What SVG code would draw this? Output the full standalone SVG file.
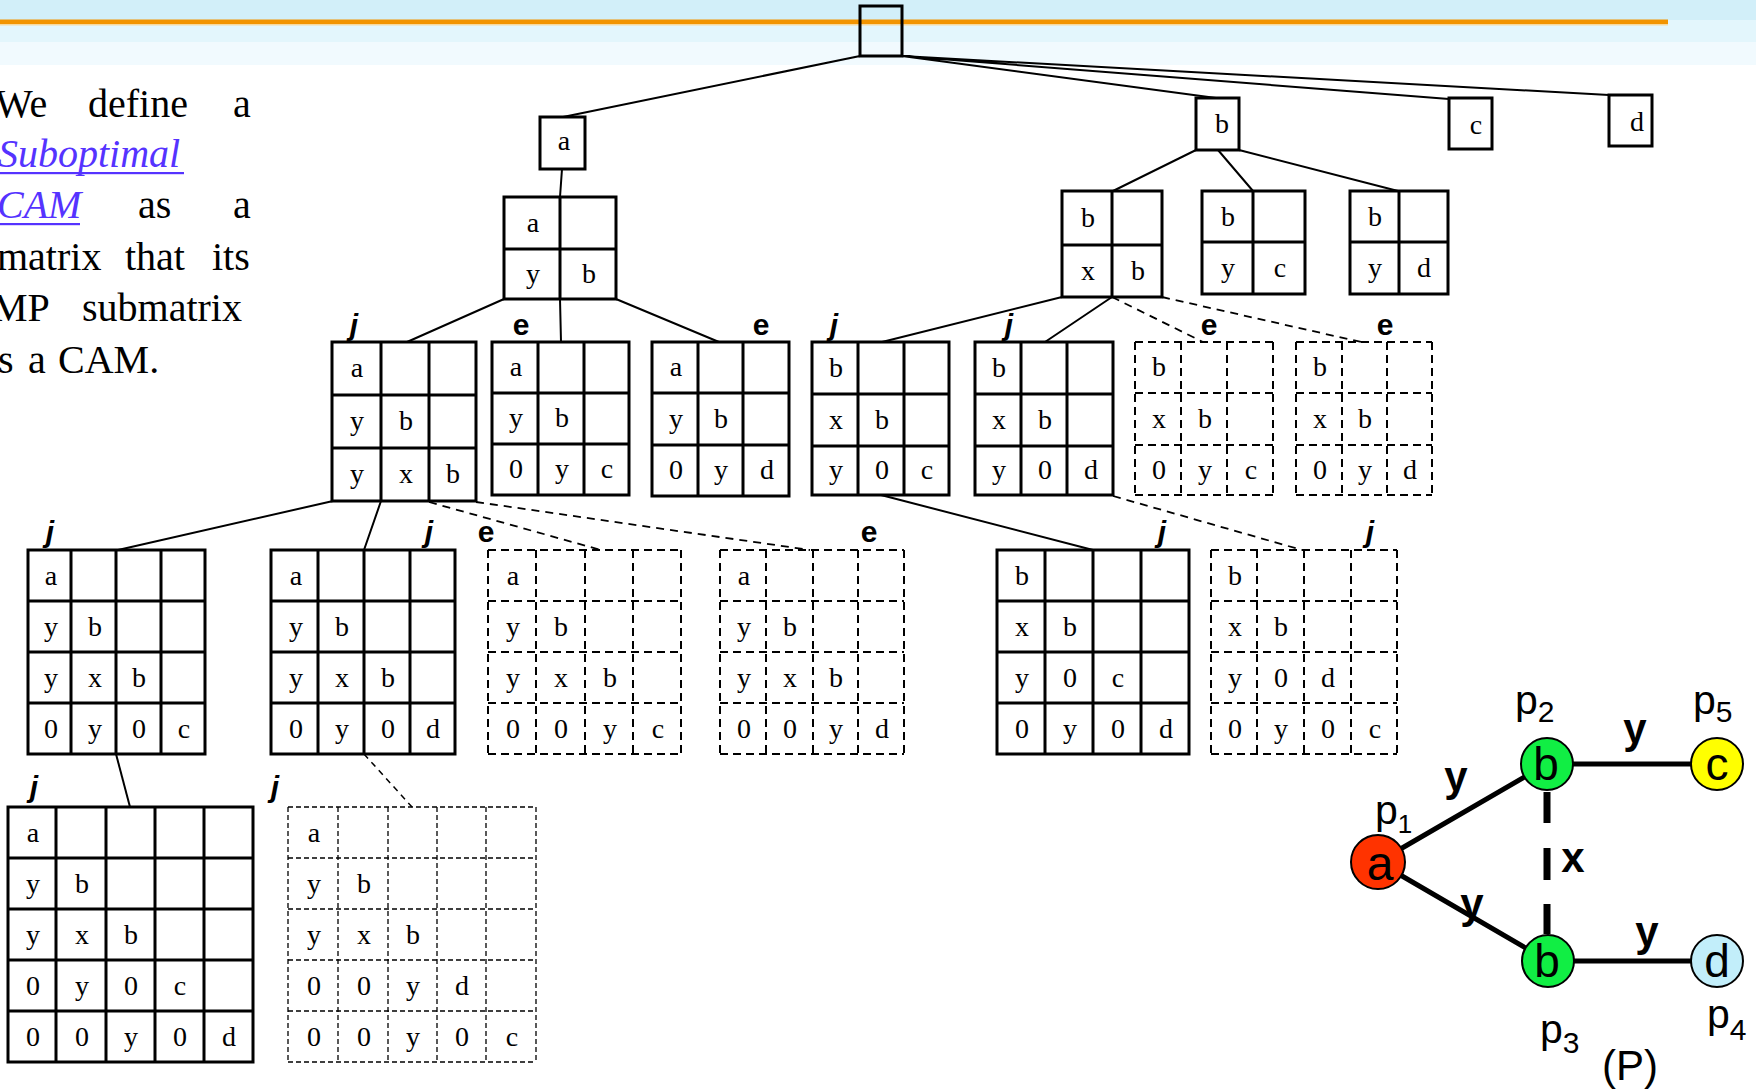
<svg xmlns="http://www.w3.org/2000/svg" width="1756" height="1090" viewBox="0 0 1756 1090">
<style>
.s{fill:none;stroke:#000;stroke-width:3}
.d{fill:none;stroke:#000;stroke-width:2;stroke-dasharray:8 5}
.dt{fill:none;stroke:#000;stroke-width:1.3;stroke-dasharray:5 3}
.t{font-family:"Liberation Serif","Times New Roman",serif;font-size:28px;text-anchor:middle;fill:#000}
.lb{font-family:"Liberation Sans",Arial,sans-serif;font-size:30px;font-weight:bold;text-anchor:middle;fill:#000}
.lj{font-style:italic}
.e{stroke:#000;stroke-width:2;fill:none}
.ed{stroke:#000;stroke-width:1.8;fill:none;stroke-dasharray:8 6}
.edt{stroke:#000;stroke-width:1.5;fill:none;stroke-dasharray:6 5}
.body{font-family:"Liberation Serif","Times New Roman",serif;font-size:40px;fill:#000}
.link{font-style:italic;fill:#5533FF}
.gs{font-family:"Liberation Sans",Arial,sans-serif;fill:#000}
.ge{stroke:#000;stroke-width:5;fill:none}
.nc{stroke:#000;stroke-width:2}
</style>
<rect width="1756" height="1090" fill="#fff"/>
<g id="background">
<rect x="0" y="0" width="1756" height="20" fill="#D2EFF9"/>
<rect x="0" y="20" width="1756" height="22" fill="#E3F6FC"/>
<rect x="0" y="42" width="1756" height="23" fill="#F1FAFE"/>
<rect x="0" y="19.5" width="1668" height="4.5" fill="#F29400"/>
<rect x="0" y="24" width="1668" height="1.5" fill="#F6D9A0"/>
</g>
<g id="text-definition" class="body">
<text x="-5" y="117">We</text><text x="88" y="117">define</text><text x="233" y="117">a</text>
<text x="-2" y="167" class="link">Suboptimal</text>
<rect x="0" y="172" width="184" height="2.2" fill="#5533FF"/>
<text x="-3" y="218" class="link">CAM</text><text x="138" y="218">as</text><text x="233" y="218">a</text>
<rect x="0" y="223" width="80" height="2.2" fill="#5533FF"/>
<text x="-3" y="270">matrix</text><text x="125" y="270">that</text><text x="212" y="270">its</text>
<text x="-8" y="321">MP</text><text x="82" y="321">submatrix</text>
<text x="-2" y="373">s</text><text x="28" y="373">a</text><text x="58" y="373">CAM.</text>
</g>
<g id="connectors">
<path class="e" d="M860 56L563 117M902 56L1216 98M902 56L1449 99M902 56L1609 95"/>
<path class="e" d="M562 169L560 197M504 299L407 342M560 299L561 342M616 299L719 342"/>
<path class="e" d="M1196 150L1113 191M1218 150L1253 191M1239 150L1398 191"/>
<path class="e" d="M1062 297L882 342M1112 297L1045 342"/>
<path class="ed" d="M1112 297L1203 342M1162 297L1361 342"/>
<path class="e" d="M333 501L118 550M381 501L364 550M881 495L1093 550"/>
<path class="ed" d="M429 502L601 550M476 502L810 550M1113 496L1302 550"/>
<path class="e" d="M116 754L130 807"/>
<path class="edt" d="M364 754L412 807"/>
</g>
<g id="root"><rect class="s" x="860" y="6" width="42" height="50"/></g>
<g id="n-a"><rect class="s" x="540" y="117" width="45" height="52" fill="#fff"/><text class="t" x="564" y="150">a</text></g>
<g id="n-b"><rect class="s" x="1196" y="98" width="43" height="52" fill="#fff"/><text class="t" x="1222" y="133">b</text></g>
<g id="n-c"><rect class="s" x="1449" y="98" width="43" height="51" fill="#fff"/><text class="t" x="1476" y="134">c</text></g>
<g id="n-d"><rect class="s" x="1609" y="95" width="43" height="51" fill="#fff"/><text class="t" x="1637" y="131">d</text></g>

<g id="m-ayb"><path class="s" d="M504 197H616V299H504ZM560 197V299M504 249H616"/>
<text class="t" x="533" y="232">a</text><text class="t" x="533" y="283">y</text><text class="t" x="589" y="283">b</text></g>
<g id="m-bxb"><path class="s" d="M1062 191H1162V297H1062ZM1112 191V297M1062 245H1162"/>
<text class="t" x="1088" y="227">b</text><text class="t" x="1088" y="280">x</text><text class="t" x="1138" y="280">b</text></g>
<g id="m-byc"><path class="s" d="M1202 191H1305V294H1202ZM1253 191V294M1202 242H1305"/>
<text class="t" x="1228" y="226">b</text><text class="t" x="1228" y="277">y</text><text class="t" x="1280" y="277">c</text></g>
<g id="m-byd"><path class="s" d="M1350 191H1448V294H1350ZM1399 191V294M1350 242H1448"/>
<text class="t" x="1375" y="226">b</text><text class="t" x="1375" y="277">y</text><text class="t" x="1424" y="277">d</text></g>

<g id="m3-ayb-yxb"><path class="s" d="M332 342H476V501H332ZM381 342V501M429 342V501M332 395H476M332 448H476"/>
<text class="t" x="357" y="377">a</text><text class="t" x="357" y="430">y</text><text class="t" x="406" y="430">b</text>
<text class="t" x="357" y="483">y</text><text class="t" x="406" y="483">x</text><text class="t" x="453" y="483">b</text>
<text class="lb lj" x="354" y="335">j</text></g>
<g id="m3-ayb-0yc"><path class="s" d="M492 342H629V495H492ZM538 342V495M584 342V495M492 393H629M492 444H629"/>
<text class="t" x="516" y="376">a</text><text class="t" x="516" y="427">y</text><text class="t" x="562" y="427">b</text>
<text class="t" x="516" y="478">0</text><text class="t" x="562" y="478">y</text><text class="t" x="607" y="478">c</text>
<text class="lb" x="521" y="335">e</text></g>
<g id="m3-ayb-0yd"><path class="s" d="M652 342H789V496H652ZM698 342V496M743 342V496M652 393H789M652 445H789"/>
<text class="t" x="676" y="376">a</text><text class="t" x="676" y="428">y</text><text class="t" x="721" y="428">b</text>
<text class="t" x="676" y="479">0</text><text class="t" x="721" y="479">y</text><text class="t" x="767" y="479">d</text>
<text class="lb" x="761" y="335">e</text></g>
<g id="m3-bxb-y0c"><path class="s" d="M812 342H949V495H812ZM858 342V495M904 342V495M812 394H949M812 446H949"/>
<text class="t" x="836" y="377">b</text><text class="t" x="836" y="429">x</text><text class="t" x="882" y="429">b</text>
<text class="t" x="836" y="479">y</text><text class="t" x="882" y="479">0</text><text class="t" x="927" y="479">c</text>
<text class="lb lj" x="834" y="335">j</text></g>
<g id="m3-bxb-y0d"><path class="s" d="M975 342H1113V495H975ZM1021 342V495M1067 342V495M975 394H1113M975 446H1113"/>
<text class="t" x="999" y="377">b</text><text class="t" x="999" y="429">x</text><text class="t" x="1045" y="429">b</text>
<text class="t" x="999" y="479">y</text><text class="t" x="1045" y="479">0</text><text class="t" x="1091" y="479">d</text>
<text class="lb lj" x="1009" y="335">j</text></g>
<g id="m3-bxb-0yc"><path class="d" d="M1135 342H1273M1135 393H1273M1135 445H1273M1135 495H1273M1135 342V495M1181 342V495M1227 342V495M1273 342V495"/>
<text class="t" x="1159" y="376">b</text><text class="t" x="1159" y="428">x</text><text class="t" x="1205" y="428">b</text>
<text class="t" x="1159" y="479">0</text><text class="t" x="1205" y="479">y</text><text class="t" x="1251" y="479">c</text>
<text class="lb" x="1209" y="335">e</text></g>
<g id="m3-bxb-0yd"><path class="d" d="M1296 342H1432M1296 393H1432M1296 445H1432M1296 495H1432M1296 342V495M1342 342V495M1387 342V495M1432 342V495"/>
<text class="t" x="1320" y="376">b</text><text class="t" x="1320" y="428">x</text><text class="t" x="1365" y="428">b</text>
<text class="t" x="1320" y="479">0</text><text class="t" x="1365" y="479">y</text><text class="t" x="1410" y="479">d</text>
<text class="lb" x="1385" y="335">e</text></g>

<g id="m4-a-c"><path class="s" d="M28 550H205V754H28ZM71 550V754M116 550V754M161 550V754M28 601H205M28 652H205M28 703H205"/>
<text class="t" x="51" y="585">a</text>
<text class="t" x="51" y="636">y</text><text class="t" x="95" y="636">b</text>
<text class="t" x="51" y="687">y</text><text class="t" x="95" y="687">x</text><text class="t" x="139" y="687">b</text>
<text class="t" x="51" y="738">0</text><text class="t" x="95" y="738">y</text><text class="t" x="139" y="738">0</text><text class="t" x="184" y="738">c</text>
<text class="lb lj" x="50" y="542">j</text></g>
<g id="m4-a-d"><path class="s" d="M271 550H455V754H271ZM318 550V754M364 550V754M410 550V754M271 601H455M271 652H455M271 703H455"/>
<text class="t" x="296" y="585">a</text>
<text class="t" x="296" y="636">y</text><text class="t" x="342" y="636">b</text>
<text class="t" x="296" y="687">y</text><text class="t" x="342" y="687">x</text><text class="t" x="388" y="687">b</text>
<text class="t" x="296" y="738">0</text><text class="t" x="342" y="738">y</text><text class="t" x="388" y="738">0</text><text class="t" x="433" y="738">d</text>
<text class="lb lj" x="429" y="542">j</text></g>
<g id="m4-e-c"><path class="d" d="M488 550H681M488 601H681M488 652H681M488 703H681M488 754H681M488 550V754M536 550V754M585 550V754M633 550V754M681 550V754"/>
<text class="t" x="513" y="585">a</text>
<text class="t" x="513" y="636">y</text><text class="t" x="561" y="636">b</text>
<text class="t" x="513" y="687">y</text><text class="t" x="561" y="687">x</text><text class="t" x="610" y="687">b</text>
<text class="t" x="513" y="738">0</text><text class="t" x="561" y="738">0</text><text class="t" x="610" y="738">y</text><text class="t" x="658" y="738">c</text>
<text class="lb" x="486" y="542">e</text></g>
<g id="m4-e-d"><path class="d" d="M720 550H904M720 601H904M720 652H904M720 703H904M720 754H904M720 550V754M766 550V754M813 550V754M858 550V754M904 550V754"/>
<text class="t" x="744" y="585">a</text>
<text class="t" x="744" y="636">y</text><text class="t" x="790" y="636">b</text>
<text class="t" x="744" y="687">y</text><text class="t" x="790" y="687">x</text><text class="t" x="836" y="687">b</text>
<text class="t" x="744" y="738">0</text><text class="t" x="790" y="738">0</text><text class="t" x="836" y="738">y</text><text class="t" x="882" y="738">d</text>
<text class="lb" x="869" y="542">e</text></g>
<g id="m4-b-d"><path class="s" d="M997 550H1189V754H997ZM1045 550V754M1093 550V754M1141 550V754M997 601H1189M997 652H1189M997 703H1189"/>
<text class="t" x="1022" y="585">b</text>
<text class="t" x="1022" y="636">x</text><text class="t" x="1070" y="636">b</text>
<text class="t" x="1022" y="687">y</text><text class="t" x="1070" y="687">0</text><text class="t" x="1118" y="687">c</text>
<text class="t" x="1022" y="738">0</text><text class="t" x="1070" y="738">y</text><text class="t" x="1118" y="738">0</text><text class="t" x="1166" y="738">d</text>
<text class="lb lj" x="1162" y="542">j</text></g>
<g id="m4-b-c"><path class="d" d="M1211 550H1397M1211 601H1397M1211 652H1397M1211 703H1397M1211 754H1397M1211 550V754M1257 550V754M1304 550V754M1351 550V754M1397 550V754"/>
<text class="t" x="1235" y="585">b</text>
<text class="t" x="1235" y="636">x</text><text class="t" x="1281" y="636">b</text>
<text class="t" x="1235" y="687">y</text><text class="t" x="1281" y="687">0</text><text class="t" x="1328" y="687">d</text>
<text class="t" x="1235" y="738">0</text><text class="t" x="1281" y="738">y</text><text class="t" x="1328" y="738">0</text><text class="t" x="1375" y="738">c</text>
<text class="lb lj" x="1370" y="542">j</text></g>

<g id="m5-d"><path class="s" d="M8 807H253V1062H8ZM56 807V1062M106 807V1062M155 807V1062M204 807V1062M8 858H253M8 909H253M8 960H253M8 1011H253"/>
<text class="t" x="33" y="842">a</text>
<text class="t" x="33" y="893">y</text><text class="t" x="82" y="893">b</text>
<text class="t" x="33" y="944">y</text><text class="t" x="82" y="944">x</text><text class="t" x="131" y="944">b</text>
<text class="t" x="33" y="995">0</text><text class="t" x="82" y="995">y</text><text class="t" x="131" y="995">0</text><text class="t" x="180" y="995">c</text>
<text class="t" x="33" y="1046">0</text><text class="t" x="82" y="1046">0</text><text class="t" x="131" y="1046">y</text><text class="t" x="180" y="1046">0</text><text class="t" x="229" y="1046">d</text>
<text class="lb lj" x="34" y="797">j</text></g>
<g id="m5-c"><path class="dt" d="M288 807H536M288 858H536M288 909H536M288 960H536M288 1011H536M288 1062H536M288 807V1062M338 807V1062M388 807V1062M437 807V1062M486 807V1062M536 807V1062"/>
<text class="t" x="314" y="842">a</text>
<text class="t" x="314" y="893">y</text><text class="t" x="364" y="893">b</text>
<text class="t" x="314" y="944">y</text><text class="t" x="364" y="944">x</text><text class="t" x="413" y="944">b</text>
<text class="t" x="314" y="995">0</text><text class="t" x="364" y="995">0</text><text class="t" x="413" y="995">y</text><text class="t" x="462" y="995">d</text>
<text class="t" x="314" y="1046">0</text><text class="t" x="364" y="1046">0</text><text class="t" x="413" y="1046">y</text><text class="t" x="462" y="1046">0</text><text class="t" x="512" y="1046">c</text>
<text class="lb lj" x="275" y="797">j</text></g>

<g id="graph-P">
<g id="P-edges">
<path class="ge" d="M1378 862L1547 764M1378 862L1548 961M1547 764L1717 764M1548 961L1717 961"/>
<path stroke="#000" stroke-width="7" fill="none" d="M1547 792V823M1547 848V880M1547 904V934"/>
</g>
<g id="P-edge-labels" class="gs" font-size="42" font-weight="bold" text-anchor="middle">
<text x="1456" y="791">y</text><text x="1472" y="918">y</text><text x="1635" y="743">y</text><text x="1647" y="946">y</text><text x="1573" y="872">x</text>
</g>
<g id="P-node-p1"><circle class="nc" cx="1378" cy="862" r="27" fill="#FF3300"/><text class="gs" x="1380" y="880" font-size="48" text-anchor="middle">a</text>
<text class="gs" x="1375" y="824" font-size="41">p<tspan font-size="26" dy="9">1</tspan></text></g>
<g id="P-node-p2"><circle class="nc" cx="1547" cy="764" r="26" fill="#11EE44"/><text class="gs" x="1546" y="780" font-size="46" text-anchor="middle">b</text>
<text class="gs" x="1515" y="714" font-size="41">p<tspan font-size="30" dy="8">2</tspan></text></g>
<g id="P-node-p5"><circle class="nc" cx="1717" cy="764" r="26" fill="#FFFF00"/><text class="gs" x="1717" y="780" font-size="46" text-anchor="middle">c</text>
<text class="gs" x="1693" y="714" font-size="41">p<tspan font-size="30" dy="8">5</tspan></text></g>
<g id="P-node-p3"><circle class="nc" cx="1548" cy="961" r="26" fill="#11EE44"/><text class="gs" x="1547" y="977" font-size="46" text-anchor="middle">b</text>
<text class="gs" x="1540" y="1043" font-size="41">p<tspan font-size="30" dy="10">3</tspan></text></g>
<g id="P-node-p4"><circle class="nc" cx="1717" cy="961" r="26" fill="#C2EEFA"/><text class="gs" x="1717" y="977" font-size="46" text-anchor="middle">d</text>
<text class="gs" x="1707" y="1028" font-size="41">p<tspan font-size="30" dy="12">4</tspan></text></g>
<text class="gs" x="1602" y="1080" font-size="42">(P)</text>
</g>
</svg>
